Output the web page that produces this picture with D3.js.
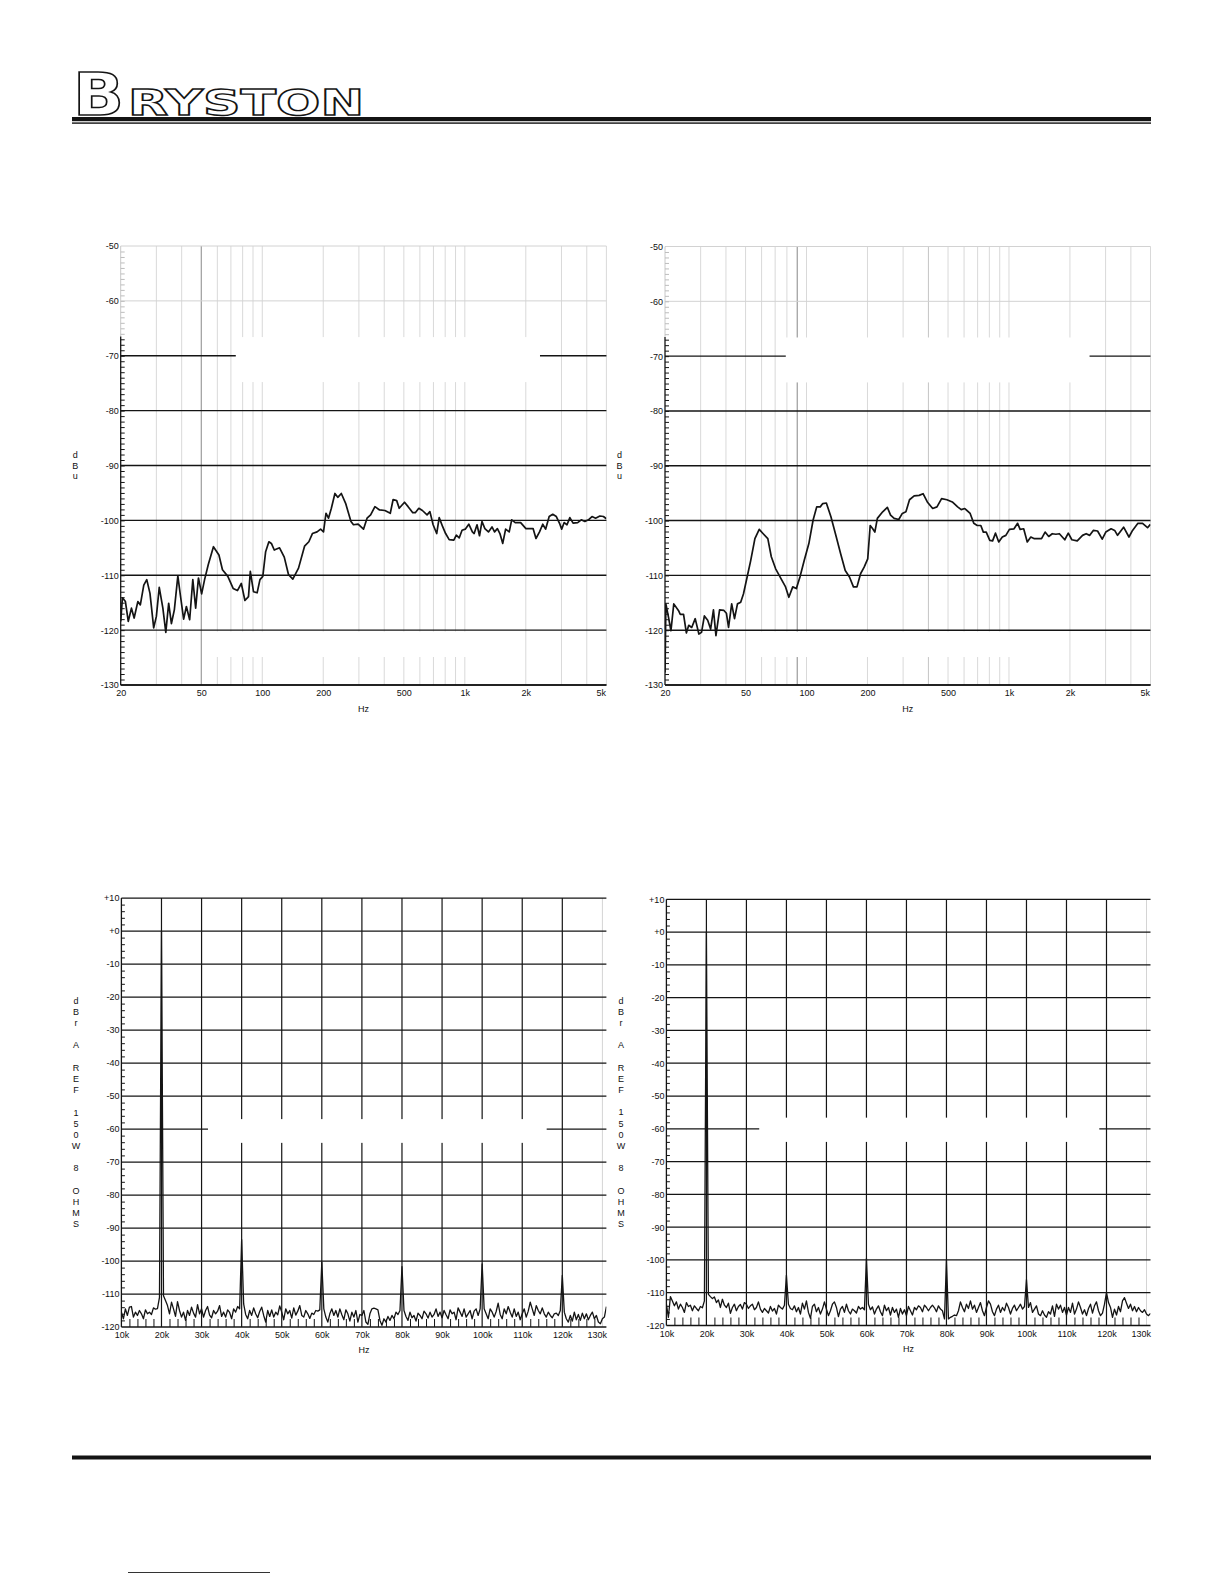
<!DOCTYPE html>
<html><head><meta charset="utf-8">
<script src="https://cdn.jsdelivr.net/npm/d3@7"></script>
<style>html,body{margin:0;padding:0;background:#fff}svg{display:block}</style>
</head><body>
<svg id="page" width="1224" height="1584"></svg>
<script>
// ---------------- DATA ----------------
const topHzTicks = [20, 50, 100, 200, 500, 1000, 2000, 5000];
const topHzLabels = ["20", "50", "100", "200", "500", "1k", "2k", "5k"];
const topGridHz = [30, 40, 50, 60, 70, 80, 90, 100, 200, 300, 400, 500, 600, 700, 800, 900, 1000, 2000, 3000, 4000, 5000];
const topDbTicks = [-50, -60, -70, -80, -90, -100, -110, -120, -130];
const topYLetters = ["d", "B", "u"];

// top-left response (Hz, dBu)
const leftHz = [20,20.4,21.1,21.8,22.6,23.3,24.3,25.0,26.0,26.9,27.9,29.1,30.0,31.0,32.3,33.4,34.5,35.6,36.8,38.3,39.4,40.9,42.2,43.8,45.4,46.9,48.4,50.2,51.9,54.1,57.4,61.1,63.6,67.6,71.8,75.4,78.8,82.1,85.5,87.3,90.5,94.3,97.4,100.6,103.9,107.8,110.9,114.6,121.7,128.4,134.8,141.5,151,161.7,169.8,176.8,186.4,194.1,200.6,206.3,212.3,219.3,228.4,235.9,245.6,257.9,274.1,282,297.3,316,329.1,342.7,359.9,379.4,403.1,428.5,442.6,460.9,474.2,503.9,524.8,553.3,569.3,592.9,617.4,650.9,672.4,697.4,726.3,747.2,778.2,803.8,837.1,882.4,907.9,937.9,968.9,1004.7,1046.3,1089.6,1111.9,1148.6,1181.6,1215.8,1256,1308,1362,1402,1448,1490,1539,1590,1656,1704,1774,1886,2003,2173,2245,2338,2425,2505,2609,2717,2830,2947,3007,3094,3195,3300,3423,3608,3758,3914,4077,4245,4422,4642,4835,4994];
const leftDbu = [-118.4,-114.1,-114.8,-118.4,-116,-117.8,-114.8,-115.4,-111.8,-110.8,-113.3,-119.6,-117.5,-112.2,-116,-120.4,-115.1,-118.8,-116.3,-110.1,-113.6,-118,-115.7,-118.1,-110.8,-116,-110.5,-113.4,-110.8,-108.1,-104.8,-106.3,-109,-110.2,-112.4,-112.8,-111.5,-114.6,-113.9,-109.3,-113,-113.2,-110.8,-110.2,-105.7,-103.9,-104.2,-105.4,-105,-106.7,-109.9,-110.7,-108.7,-104.7,-103.9,-102.4,-102.1,-101.6,-102.1,-98.7,-99.6,-97.8,-95.1,-95.8,-95.1,-96.9,-100.2,-100.8,-100.7,-101.6,-99.6,-99,-97.5,-98.1,-98.2,-98.7,-96.2,-96.4,-97.8,-96.7,-97.5,-98.6,-98.6,-97.8,-98.2,-99,-98.4,-100.8,-102.4,-99.5,-101.2,-102.4,-103.5,-103.6,-102.7,-103.2,-101.8,-101.6,-100.7,-102.1,-102.4,-100.8,-102.8,-100.2,-101.5,-102.1,-101.2,-102.1,-101.5,-102.4,-104.2,-101.6,-102.1,-99.9,-100.4,-100.4,-101.5,-101.5,-103.3,-102.1,-100.7,-101.6,-99.3,-98.9,-99.3,-100.7,-101.6,-100.4,-100.8,-99.5,-100.5,-100.4,-99.9,-100.2,-99.9,-99.3,-99.6,-99.2,-99.3,-99.7];

// top-right response (Hz, dBu)
const rightHz = [20,20.2,20.8,21.4,22.1,23.3,23.8,24.7,25.5,26.2,27.1,28.2,29.4,30.3,31.3,32.5,33.6,34.7,35.7,37.2,39.1,40.2,41.2,42.7,44.1,45.6,47.3,48.8,50.9,53.0,55.6,58.4,61.1,64.4,67.0,70.4,74.8,78.8,81.8,85.5,89.1,92.8,97.4,102.7,107.8,112.3,116.9,120.3,125.3,132,140.3,147.3,155.3,163,170.5,177.5,184.9,192.6,200.6,206.3,212.3,217.5,223.8,237.8,250.8,260.1,270.9,285.5,297.3,309.7,322.6,340.1,359.9,376.4,395,419.9,440.9,464.7,493.8,524.8,557.7,581,605,643,670,697,726,747,772,804,830,858,890,927,965,1005,1059,1103,1135,1182,1231,1282,1335,1390,1448,1508,1571,1636,1704,1774,1886,1963,2044,2173,2309,2405,2505,2609,2739,2887,3007,3195,3327,3437,3683,3914,4077,4333,4568,4835,4994];
const rightDbu = [-127.7,-115.2,-117.6,-120.1,-115.2,-116.4,-117.1,-117.1,-120.5,-119.1,-119.5,-117.9,-120.7,-120.4,-117.4,-118.2,-119.8,-116.3,-121,-116.3,-116.4,-116.9,-119.5,-115.2,-117.9,-115.2,-114.9,-113.4,-110.3,-107.3,-103.3,-101.6,-102.4,-103.3,-106.6,-108.8,-110.6,-112.1,-114,-112.1,-112.4,-110.3,-107.3,-104.2,-99.9,-97.5,-97.5,-96.9,-96.8,-99.3,-103,-106,-109.1,-110.3,-112.1,-112.1,-109.7,-108.5,-107,-100.9,-101.5,-102.1,-99.6,-98.4,-97.6,-99,-99.6,-99.8,-98.7,-98.4,-96.2,-95.5,-95.4,-95.1,-96.6,-97.8,-97.5,-96,-96.2,-96.6,-97.5,-98,-97.8,-98.7,-100.5,-100.9,-100.9,-102.1,-102.1,-103.6,-103.7,-102.3,-103.9,-103,-102.7,-101.6,-101.5,-100.5,-101.6,-101.5,-103.9,-103,-103.3,-103.3,-103.3,-102.1,-102.9,-102.4,-102.5,-102.4,-103.5,-102.3,-103.5,-103.7,-102.7,-102.4,-102.7,-101.8,-101.9,-103.4,-102.1,-101.5,-101.8,-102.7,-101.2,-103,-101.8,-100.5,-100.5,-101.3,-100.7];

// FFT spectra: bins start at 10 kHz, 500 Hz apart
const fftStartHz = 10000;
const fftBinHz = 500;
const fftLeftDbr = [
-115.5,-117.5,-114.5,-116.5,-114,-113.8,-117,-115.5,-116.5,-115,-116,-117.5,-114.8,-116,-115.5,-116.2,-114.2,-114.6,-114.4,-111,
0,-110.5,-112,-113.5,-116,-112.5,-114.5,-116.8,-112.3,-115,-117,-115.5,-118,-115,-116.5,-114,-115.8,-117,-113.2,-116,
-114.5,-117,-115,-113.8,-116.4,-117.2,-115,-116,-115.2,-113.5,-116.8,-115.5,-117,-114.8,-115.6,-117.5,-114.5,-115.5,-113.8,-114.5,
-93.5,-113,-116.2,-117.5,-115,-116.5,-114.2,-116,-117.2,-115.3,-114,-116.5,-118.5,-115,-116.8,-114.8,-117,-115.5,-116.3,-113.6,
-115.5,-117.8,-114.5,-116,-115,-117.3,-114.2,-116.4,-115.2,-113.5,-116.5,-117,-115,-116,-117.4,-115.8,-116.2,-115,-115.2,-114.8,
-100.4,-114.5,-117,-118.5,-116,-114.5,-116.5,-115,-117,-114.5,-116.3,-117.8,-114.8,-116,-118.2,-115.5,-117,-115,-118.5,-116.2,
-116.5,-115,-118.5,-119.2,-116,-114.5,-114.3,-114.5,-114.8,-118,-119.5,-117.5,-118.5,-116.8,-118,-116.5,-117.5,-115.5,-116.2,-115,
-101.7,-115,-116.8,-118,-115.5,-117.2,-116.5,-118.2,-115.8,-116.5,-117.5,-115.2,-116,-117.3,-115.5,-117,-116.2,-114.5,-116.8,-115.5,
-117.2,-115,-116.3,-117.5,-114.8,-116,-115.5,-117.8,-114.2,-115.5,-116.8,-114.5,-117,-116,-115,-117.5,-115.2,-114.5,-116.5,-114.5,
-100.9,-114.5,-116,-117.5,-114.5,-115.5,-117,-115.3,-112.8,-116.2,-117.5,-114.5,-116,-113.8,-115.5,-117,-114.5,-116.8,-115.5,-117.8,
-116,-114.5,-117,-115.2,-112.5,-114.5,-116.5,-113.5,-115,-116,-114.2,-116,-117,-115.5,-116.5,-117.2,-116,-115.8,-116.5,-115,
-104.4,-115.5,-117.5,-118.5,-116.5,-118.2,-115.5,-117.8,-116.2,-118,-115.8,-117.5,-116,-117.8,-116.5,-115.5,-117.5,-116.5,-118.5,-119,
-117.5,-117,-113.8];
const fftRightDbr = [
-113.5,-117.5,-111.2,-112.5,-114,-112.8,-115,-113.5,-114.5,-116,-113,-114.2,-113.8,-115.5,-114,-114.8,-115.5,-114.2,-114.6,-112.5,
0,-110.5,-111.2,-111.8,-111.3,-113,-112.2,-114.5,-112,-113.8,-114.5,-113.2,-116.3,-114.5,-113.5,-115.5,-114.2,-113.6,-115,-113,
-113.5,-114.8,-114,-113.5,-115.2,-114.5,-112.8,-115,-116,-114.8,-115.5,-116.2,-114.2,-115.6,-114.8,-116.5,-113.8,-114.5,-115,-113.8,
-104.7,-113.5,-114.8,-115.2,-114,-115.8,-114.5,-116.5,-113.2,-115,-112.5,-116,-117.8,-114.2,-113.5,-115.8,-114.5,-116.5,-115,-112.8,
-115,-117,-115.5,-113.5,-112.8,-114.5,-117.3,-115,-114.2,-116,-113.5,-115.5,-116.5,-115,-115.5,-116.2,-114.2,-115,-114.5,-115.2,
-99.6,-113.5,-115.2,-114.3,-116.5,-115,-114,-115.8,-117,-113.8,-115.5,-114.5,-116.8,-114.5,-116,-115,-117.5,-114.8,-116.5,-115.2,
-117,-114.2,-115.5,-116.8,-114.5,-115.2,-114,-114.5,-115.8,-113.8,-114.5,-115.5,-114.5,-113.8,-114.6,-115.8,-114,-115,-115.5,-118,
-100.1,-118,-117.5,-117.2,-116.8,-117,-115.5,-112.8,-114.5,-115.8,-113.5,-114.8,-112.5,-115,-113.8,-116,-114.5,-113,-115.5,-117,
-114.5,-112.5,-113.5,-115.8,-117,-115,-113.8,-116,-114.5,-115.5,-113.2,-114.5,-116.5,-114.8,-113.8,-115.5,-114.5,-113.5,-115,-114.2,
-106,-114.5,-113,-116,-115,-114,-116.5,-117,-115.5,-116.8,-117.5,-115.8,-116.5,-114,-117.2,-113.5,-115,-113.8,-116,-114.5,
-116.8,-114.5,-116,-113.2,-116.5,-115,-112.8,-114.5,-116.5,-115.2,-117,-114.8,-113.5,-116.2,-114,-112.8,-115.5,-117,-116.2,-113.5,
-110,-113,-114.5,-117.5,-115,-116.8,-114.2,-115.8,-112.5,-111.5,-113.2,-114.8,-113.5,-115.5,-114.2,-115.8,-114.5,-115.5,-116,-115.2,
-116.5,-117,-116.3];
const fftHzTicks = [10000,20000,30000,40000,50000,60000,70000,80000,90000,100000,110000,120000,130000];
const fftHzLabels = ["10k","20k","30k","40k","50k","60k","70k","80k","90k","100k","110k","120k","130k"];
const fftDbTicks = [10,0,-10,-20,-30,-40,-50,-60,-70,-80,-90,-100,-110,-120];
const fftDbLabels = ["+10","+0","-10","-20","-30","-40","-50","-60","-70","-80","-90","-100","-110","-120"];
const fftYLetters = ["d","B","r","","A","","R","E","F","","1","5","0","W","","8","","O","H","M","S"];

// ---------------- DRAWING ----------------
const svg = d3.select("#page");
const FONT = "'Liberation Sans', Arial, Helvetica, sans-serif";
const INK = "#141414";
const FS = 9;
let clipId = 0;

function styleText(sel, size) {
  sel.attr("font-family", FONT).attr("font-size", size).attr("fill", "#111");
}

function stackedLabel(g, letters, cx, cy, lh) {
  const n = letters.length;
  const t = g.append("text").attr("text-anchor", "middle").attr("dominant-baseline", "central");
  styleText(t, FS);
  letters.forEach((ch, i) => {
    if (!ch) return;
    t.append("tspan").attr("x", cx).attr("y", cy + (i - (n - 1) / 2) * lh).text(ch);
  });
}

function drawTop(c) {
  const x = d3.scaleLog().domain([20, 5000]).range([c.x0, c.x1]);
  const y = d3.scaleLinear().domain([-50, -130]).range([c.y0, c.y1]);
  const g = svg.append("g");
  const fade = -66.5;

  g.selectAll(null).data(topGridHz).join("line")
    .attr("x1", d => x(d)).attr("x2", d => x(d))
    .attr("y1", y(-50)).attr("y2", y(-130))
    .attr("stroke", d => c.darkHz.includes(d) ? "#9c9c9c" : (c.midHz.includes(d) ? "#c4c4c4" : "#d9d9d9"))
    .attr("stroke-width", d => c.darkHz.includes(d) ? 1.2 : 1);
  g.selectAll(null).data(topDbTicks).join("line")
    .attr("x1", c.x0).attr("x2", c.x1)
    .attr("y1", d => y(d)).attr("y2", d => y(d))
    .attr("stroke", d => d > fade ? "#d2d2d2" : INK)
    .attr("stroke-width", d => d > fade ? 1 : 1.4);
  c.masks.forEach(m => {
    g.append("rect").attr("x", x(m.f0)).attr("width", x(m.f1) - x(m.f0))
      .attr("y", y(m.d0)).attr("height", y(m.d1) - y(m.d0)).attr("fill", "#fff");
  });
  g.append("line").attr("x1", c.x0).attr("x2", c.x0).attr("y1", y(-50)).attr("y2", y(fade))
    .attr("stroke", "#c8c8c8").attr("stroke-width", 1);
  g.append("line").attr("x1", c.x0).attr("x2", c.x0).attr("y1", y(fade)).attr("y2", y(-130))
    .attr("stroke", INK).attr("stroke-width", 1.3);
  const minor = g.append("g").attr("transform", `translate(${c.x0},0)`)
    .call(d3.axisLeft(y).tickValues(d3.range(-51, -130, -1)).tickSize(-4).tickFormat(""));
  minor.select(".domain").remove();
  minor.selectAll(".tick line").attr("stroke", d => d > fade ? "#bdbdbd" : INK).attr("stroke-width", 1);
  const yl = g.append("g").attr("transform", `translate(${c.x0},0)`)
    .call(d3.axisLeft(y).tickValues(topDbTicks).tickSize(0).tickPadding(2).tickFormat(d => String(d)));
  yl.select(".domain").remove();
  styleText(yl.selectAll("text"), FS);
  g.append("line").attr("x1", c.x0).attr("x2", c.x1).attr("y1", y(-130)).attr("y2", y(-130))
    .attr("stroke", INK).attr("stroke-width", 1.5);
  const xl = g.append("g").attr("transform", `translate(0,${c.y1})`)
    .call(d3.axisBottom(x).tickValues(topHzTicks).tickSize(0).tickPadding(5)
      .tickFormat(d => topHzLabels[topHzTicks.indexOf(d)]));
  xl.select(".domain").remove();
  styleText(xl.selectAll("text"), FS);
  xl.selectAll(".tick").filter(d => d === 5000).select("text")
    .attr("text-anchor", "end").attr("x", -1);
  const hz = g.append("text").attr("x", (c.x0 + c.x1) / 2).attr("y", c.y1 + 26.5)
    .attr("text-anchor", "middle").text("Hz");
  styleText(hz, FS);
  stackedLabel(g, topYLetters, c.x0 - 45.5, (c.y0 + c.y1) / 2, 10.5);

  const id = "clip" + (clipId++);
  svg.append("clipPath").attr("id", id).append("rect")
    .attr("x", c.x0).attr("y", c.y0 - 2).attr("width", c.x1 - c.x0).attr("height", c.y1 - c.y0 + 2);
  const pts = c.hz.map((f, i) => [f, c.db[i]]);
  g.append("path").datum(pts).attr("clip-path", `url(#${id})`)
    .attr("fill", "none").attr("stroke", INK).attr("stroke-width", 1.7).attr("stroke-linejoin", "round")
    .attr("d", d3.line().x(d => x(d[0])).y(d => y(d[1])));
}

function drawFft(c) {
  const x = d3.scaleLinear().domain([10000, 131000]).range([c.x0, c.x1]);
  const y = d3.scaleLinear().domain([10, -120]).range([c.y0, c.y1]);
  const g = svg.append("g");

  g.selectAll(null).data(fftHzTicks.filter(d => d > 10000)).join("line")
    .attr("x1", d => x(d)).attr("x2", d => x(d))
    .attr("y1", y(10)).attr("y2", y(-120))
    .attr("stroke", d => d === 130000 ? "#d4d4d4" : INK)
    .attr("stroke-width", d => d === 130000 ? 1 : 1.2);
  g.selectAll(null).data(fftDbTicks).join("line")
    .attr("x1", c.x0).attr("x2", c.x1)
    .attr("y1", d => y(d)).attr("y2", d => y(d))
    .attr("stroke", INK).attr("stroke-width", d => d === -120 ? 1.5 : 1.25);
  const m = c.mask;
  g.append("rect").attr("x", x(m.f0)).attr("width", x(m.f1) - x(m.f0))
    .attr("y", y(m.d0)).attr("height", y(m.d1) - y(m.d0)).attr("fill", "#fff");
  g.append("line").attr("x1", c.x0).attr("x2", c.x0).attr("y1", y(10)).attr("y2", y(-120))
    .attr("stroke", INK).attr("stroke-width", 1.3);
  const my = g.append("g").attr("transform", `translate(${c.x0},0)`)
    .call(d3.axisLeft(y).tickValues(d3.range(8, -120, -2).filter(d => d % 10 !== 0)).tickSize(-3.5).tickFormat(""));
  my.select(".domain").remove();
  my.selectAll(".tick line").attr("stroke", INK);
  const mx = g.append("g").attr("transform", `translate(0,${c.y1})`)
    .call(d3.axisBottom(x).tickValues(d3.range(12000, 131000, 2000).filter(d => d % 10000 !== 0)).tickSize(-8).tickFormat(""));
  mx.select(".domain").remove();
  mx.selectAll(".tick line").attr("stroke", INK).attr("stroke-width", 1);
  const yl = g.append("g").attr("transform", `translate(${c.x0},0)`)
    .call(d3.axisLeft(y).tickValues(fftDbTicks).tickSize(0).tickPadding(2)
      .tickFormat(d => fftDbLabels[fftDbTicks.indexOf(d)]));
  yl.select(".domain").remove();
  styleText(yl.selectAll("text"), FS);
  const xl = g.append("g").attr("transform", `translate(0,${c.y1})`)
    .call(d3.axisBottom(x).tickValues(fftHzTicks).tickSize(0).tickPadding(5)
      .tickFormat(d => fftHzLabels[fftHzTicks.indexOf(d)]));
  xl.select(".domain").remove();
  styleText(xl.selectAll("text"), FS);
  xl.selectAll(".tick").filter(d => d === 130000).select("text")
    .attr("text-anchor", "end").attr("x", x(131000) - x(130000));
  const hz = g.append("text").attr("x", (c.x0 + c.x1) / 2).attr("y", c.y1 + 26)
    .attr("text-anchor", "middle").text("Hz");
  styleText(hz, FS);
  stackedLabel(g, fftYLetters, c.x0 - 45.3, (c.y0 + c.y1) / 2, 11.17);

  const id = "clip" + (clipId++);
  svg.append("clipPath").attr("id", id).append("rect")
    .attr("x", c.x0).attr("y", c.y0 - 2).attr("width", c.x1 - c.x0).attr("height", c.y1 - c.y0 + 2);
  const pts = c.db.map((v, i) => [fftStartHz + i * fftBinHz, v]);
  g.append("path").datum(pts).attr("clip-path", `url(#${id})`)
    .attr("fill", "none").attr("stroke", INK).attr("stroke-width", 1.3).attr("stroke-linejoin", "round")
    .attr("d", d3.line().x(d => x(d[0])).y(d => y(d[1])));
}

// ---------- header ----------
const head = svg.append("g");
head.append("text").attr("x", 73).attr("y", 115).attr("font-family", "'DejaVu Sans', sans-serif")
  .attr("font-weight", "bold").attr("font-size", 58).attr("textLength", 51).attr("lengthAdjust", "spacingAndGlyphs")
  .attr("fill", "#fff").attr("stroke", INK).attr("stroke-width", 1.5).text("B");
head.append("text").attr("x", 128).attr("y", 115).attr("font-family", "'DejaVu Sans', sans-serif")
  .attr("font-weight", "bold").attr("font-size", 36).attr("textLength", 236).attr("lengthAdjust", "spacingAndGlyphs")
  .attr("fill", "#fff").attr("stroke", INK).attr("stroke-width", 1.4).text("RYSTON");
head.append("rect").attr("x", 72).attr("y", 117).attr("width", 1079).attr("height", 4.2).attr("fill", INK);
head.append("rect").attr("x", 72).attr("y", 122.4).attr("width", 1079).attr("height", 1.4).attr("fill", INK);

// ---------- charts ----------
drawTop({ x0: 120.7, x1: 606.4, y0: 246, y1: 685, hz: leftHz, db: leftDbu,
  darkHz: [50], midHz: [],
  masks: [{ f0: 74, f1: 2350, d0: -66.6, d1: -74.8 }, { f0: 52, f1: 1122, d0: -120.25, d1: -124.9 }] });
drawTop({ x0: 665, x1: 1150.5, y0: 246.5, y1: 685, hz: rightHz, db: rightDbu,
  darkHz: [90], midHz: [400],
  masks: [{ f0: 79, f1: 2500, d0: -66.6, d1: -74.8 }, { f0: 55, f1: 1066, d0: -120.25, d1: -124.9 }] });
drawFft({ x0: 121.4, x1: 606.4, y0: 898, y1: 1327, db: fftLeftDbr,
  mask: { f0: 31600, f1: 116100, d0: -57, d1: -64.2 } });
drawFft({ x0: 666.4, x1: 1150.5, y0: 899.3, y1: 1325.5, db: fftRightDbr,
  mask: { f0: 33200, f1: 118200, d0: -56.6, d1: -64 } });

// ---------- footer ----------
svg.append("rect").attr("x", 72).attr("y", 1455.5).attr("width", 1079).attr("height", 4).attr("fill", INK);
svg.append("line").attr("x1", 128).attr("x2", 270).attr("y1", 1572.5).attr("y2", 1572.5)
  .attr("stroke", "#333").attr("stroke-width", 1);
</script>
</body></html>
